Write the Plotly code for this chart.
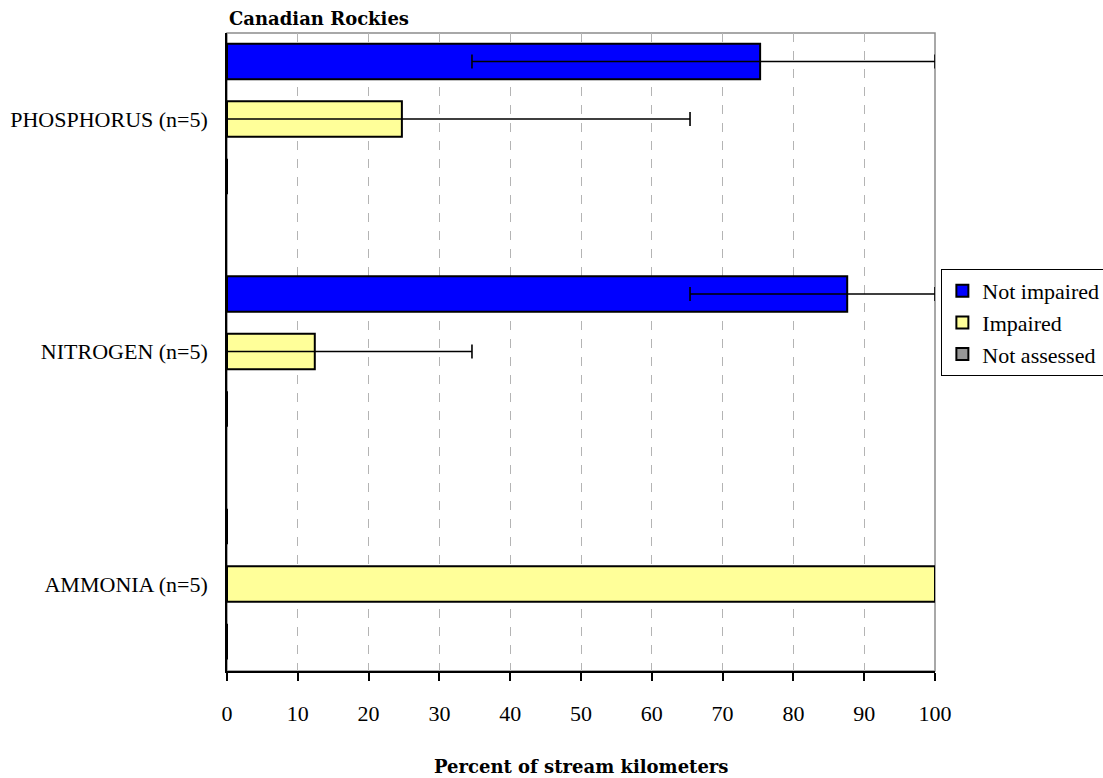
import plotly.graph_objects as go

# Data (bottom-to-top category order on the y axis)
categories = ["AMMONIA (n=5)", "NITROGEN (n=5)", "PHOSPHORUS (n=5)"]
not_impaired = [0.0, 87.6, 75.3]
not_impaired_err_minus = [0.0, 22.2, 40.7]
not_impaired_err_plus = [0.0, 12.4, 24.7]
impaired = [100.0, 12.4, 24.7]
impaired_err_minus = [0.0, 12.4, 24.7]
impaired_err_plus = [0.0, 22.2, 40.7]
not_assessed = [0.0, 0.0, 0.0]
x_ticks = [0, 10, 20, 30, 40, 50, 60, 70, 80, 90, 100]

SERIF = "Liberation Serif, Times New Roman, serif"
TITLE_FONT = "DejaVu Serif"

fig = go.Figure()

err_style = dict(type="data", symmetric=False, color="black", thickness=1.6, width=7)

fig.add_trace(go.Bar(
    y=categories, x=not_assessed, orientation="h", name="Not assessed",
    marker=dict(color="#969696", line=dict(color="black", width=2)),
))
fig.add_trace(go.Bar(
    y=categories, x=impaired, orientation="h", name="Impaired",
    marker=dict(color="#FFFF99", line=dict(color="black", width=2)),
    error_x=dict(array=impaired_err_plus, arrayminus=impaired_err_minus, **err_style),
))
fig.add_trace(go.Bar(
    y=categories, x=not_impaired, orientation="h", name="Not impaired",
    marker=dict(color="#0000FF", line=dict(color="black", width=2)),
    error_x=dict(array=not_impaired_err_plus, arrayminus=not_impaired_err_minus, **err_style),
))

fig.update_layout(
    width=1103, height=778,
    margin=dict(l=227, r=168, t=33, b=107, autoexpand=False),
    paper_bgcolor="white", plot_bgcolor="white",
    font=dict(family=SERIF, size=22, color="black"),
    barmode="group", bargap=0.258, bargroupgap=0.38,
    showlegend=True,
    legend=dict(
        x=1.009, y=0.63, xanchor="left", yanchor="top",
        traceorder="reversed",
        bordercolor="black", borderwidth=1,
        font=dict(family=SERIF, size=22, color="black"),
        bgcolor="white",
        itemwidth=30,
        tracegroupgap=0,
    ),
    xaxis=dict(
        range=[0, 100], tickvals=x_ticks, ticktext=[str(v) for v in x_ticks],
        showgrid=True, gridcolor="#B4B4B4", griddash="dash", gridwidth=1,
        showline=True, linecolor="black", linewidth=1.5,
        ticks="outside", ticklen=8, tickwidth=1.5, tickcolor="black",
        tickfont=dict(family=SERIF, size=22, color="black"),
        ticklabelstandoff=14,
        zeroline=False, fixedrange=True,
    ),
    yaxis=dict(
        type="category", categoryorder="array", categoryarray=categories,
        range=[-0.374, 2.37],
        showgrid=False, showline=True, linecolor="black", linewidth=1.5,
        ticks="", tickfont=dict(family=SERIF, size=22, color="black"),
        ticklabelstandoff=13,
        zeroline=False, fixedrange=True,
    ),
    shapes=[dict(type="rect", xref="paper", yref="paper", x0=0, x1=1, y0=0, y1=1,
                 line=dict(color="#8C8C8C", width=1.5), layer="below")],
    annotations=[
        dict(text="<b>Canadian Rockies</b>", xref="paper", yref="paper",
             x=0.0, y=1.0235, xanchor="left", yanchor="middle", showarrow=False,
             font=dict(family=TITLE_FONT, size=18, color="black")),
        dict(text="<b>Percent of stream kilometers</b>", xref="paper", yref="paper",
             x=0.5, y=-0.150, xanchor="center", yanchor="middle", showarrow=False,
             font=dict(family=TITLE_FONT, size=18, color="black")),
    ],
)

fig.write_html("out.html")
